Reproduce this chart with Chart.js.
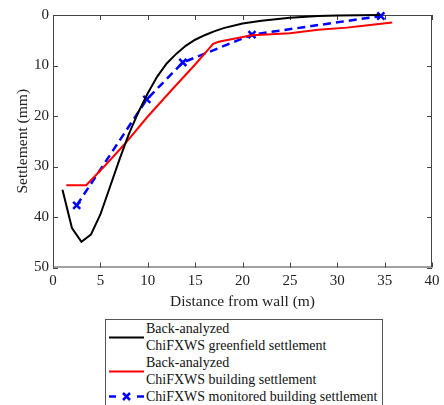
<!DOCTYPE html>
<html>
<head>
<meta charset="utf-8">
<script src="https://cdn.jsdelivr.net/npm/chart.js@4.4.0/dist/chart.umd.min.js"></script>
<style>
body { margin: 0; background: #fff; width: 444px; height: 405px; overflow: hidden; position: relative; font-family: "Liberation Serif", "Times New Roman", serif; }
#wrap { position: absolute; left: 0; top: 0; width: 444px; height: 312px; }
#legend { position: absolute; left: 105px; top: 319px; width: 278px; height: 100px; border: 1px solid #555; box-sizing: border-box; }
.item { display: flex; align-items: center; }
.item svg { flex: none; width: 40px; height: 17px; }
.item span { font-size: 14px; line-height: 17px; white-space: pre-line; color: #111; }
</style>
</head>
<body>
<div id="wrap"><canvas id="chart"></canvas></div>
<div id="legend"></div>
<script>
// greenfield (back-analyzed)
const greenX = [1, 2, 3, 4, 5, 6, 7, 8, 9, 10, 11, 12, 13, 14, 15, 16, 17, 18, 20, 22, 25, 28, 30, 34.5];
const greenY = [34.6, 42.2, 44.9, 43.5, 39.5, 34.1, 28.7, 23.6, 19.3, 15.5, 12.2, 9.6, 7.7, 6.1, 4.9, 4.0, 3.25, 2.6, 1.7, 1.15, 0.55, 0.2, 0.08, 0];

// building (back-analyzed)
const buildX = [1.4, 3.5, 5.5, 7.5, 10, 12.5, 15, 16.3, 16.9, 17.5, 18, 21, 25, 28, 31, 33, 35.8];
const buildY = [33.7, 33.7, 29.8, 25.7, 20.1, 14.9, 9.8, 7.0, 5.7, 5.3, 5.1, 4.0, 3.6, 2.9, 2.5, 2.1, 1.5];

// monitored building
const monX = [2.5, 9.9, 13.7, 21, 34.6];
const monY = [37.7, 16.7, 9.4, 3.9, 0.2];

const xTicks = [0, 5, 10, 15, 20, 25, 30, 35, 40];
const yTicks = [0, 10, 20, 30, 40, 50];

const labels = [
    'Back-analyzed\nChiFXWS greenfield settlement',
    'Back-analyzed\nChiFXWS building settlement',
    'ChiFXWS monitored building settlement'
];

const toPoints = (xs, ys) => xs.map((x, i) => ({ x: x, y: ys[i] }));
const family = '"Liberation Serif", "Times New Roman", serif';
const tickFont = { family: family, size: 15 };
const titleFont = { family: family, size: 15.5 };

// frame box + inward ticks on all four sides
const frameTicks = {
    id: 'frameTicks',
    beforeDatasetsDraw(chart) {
        const { ctx, chartArea: a, scales: { x, y } } = chart;
        ctx.save();
        ctx.strokeStyle = '#444';
        ctx.lineWidth = 1;
        ctx.strokeRect(a.left + 0.5, a.top + 0.5, a.right - a.left - 1, a.bottom - a.top - 1);
        ctx.beginPath();
        xTicks.forEach(v => {
            const px = Math.round(x.getPixelForValue(v)) + 0.5;
            ctx.moveTo(px, a.bottom); ctx.lineTo(px, a.bottom - 5);
            ctx.moveTo(px, a.top); ctx.lineTo(px, a.top + 5);
        });
        yTicks.forEach(v => {
            const py = Math.round(y.getPixelForValue(v)) + 0.5;
            ctx.moveTo(a.left, py); ctx.lineTo(a.left + 5, py);
            ctx.moveTo(a.right, py); ctx.lineTo(a.right - 5, py);
        });
        ctx.stroke();
        ctx.restore();
    }
};

new Chart(document.getElementById('chart'), {
    type: 'scatter',
    data: {
        datasets: [{
            label: labels[0],
            data: toPoints(greenX, greenY),
            showLine: true,
            borderColor: '#000',
            borderWidth: 2,
            pointRadius: 0,
            clip: false
        }, {
            label: labels[1],
            data: toPoints(buildX, buildY),
            showLine: true,
            borderColor: '#ff0000',
            borderWidth: 2,
            pointRadius: 0,
            clip: false
        }, {
            label: labels[2],
            data: toPoints(monX, monY),
            showLine: true,
            borderColor: '#0000ff',
            borderWidth: 2.5,
            borderDash: [8, 5],
            pointStyle: 'crossRot',
            pointRadius: 5,
            pointBorderWidth: 2.5,
            pointBorderColor: '#0000ff',
            clip: false
        }]
    },
    options: {
        responsive: true,
        maintainAspectRatio: false,
        animation: false,
        layout: { padding: { left: 0, top: 15, right: 11, bottom: 0 } },
        plugins: { legend: { display: false }, tooltip: { enabled: false } },
        scales: {
            x: {
                type: 'linear', min: 0, max: 40,
                afterBuildTicks: s => { s.ticks = xTicks.map(v => ({ value: v })); },
                afterFit: s => { s.height = 44.5; },
                ticks: { font: tickFont, color: '#222', padding: 4.5, maxRotation: 0 },
                grid: { display: false, drawTicks: false },
                border: { display: false },
                title: { display: true, text: 'Distance from wall (m)', font: titleFont, color: '#222', padding: { top: 0, bottom: 1 } }
            },
            y: {
                type: 'linear', min: 0, max: 50, reverse: true,
                afterBuildTicks: s => { s.ticks = yTicks.map(v => ({ value: v })); },
                afterFit: s => { s.width = 53; },
                ticks: { font: tickFont, color: '#222', padding: 4 },
                grid: { display: false, drawTicks: false },
                border: { display: false },
                title: { display: true, text: 'Settlement (mm)', font: titleFont, color: '#222', padding: { top: 13.5, bottom: 0 } }
            }
        }
    },
    plugins: [frameTicks]
});

// legend below the chart
const samples = [
    '<svg viewBox="0 0 40 17"><line x1="3" y1="8.5" x2="38" y2="8.5" stroke="#000" stroke-width="2"/></svg>',
    '<svg viewBox="0 0 40 17"><line x1="3" y1="8.5" x2="38" y2="8.5" stroke="#ff0000" stroke-width="2"/></svg>',
    '<svg viewBox="0 0 40 17"><line x1="3" y1="8.5" x2="10" y2="8.5" stroke="#0000ff" stroke-width="2.5"/>' +
        '<line x1="31" y1="8.5" x2="38" y2="8.5" stroke="#0000ff" stroke-width="2.5"/>' +
        '<path d="M17 5 L24 12 M24 5 L17 12" stroke="#0000ff" stroke-width="2.5"/></svg>'
];
const legendDiv = document.getElementById('legend');
labels.forEach((text, i) => {
    const row = document.createElement('div');
    row.className = 'item';
    row.innerHTML = samples[i];
    const span = document.createElement('span');
    span.textContent = text;
    row.appendChild(span);
    legendDiv.appendChild(row);
});
</script>
</body>
</html>
